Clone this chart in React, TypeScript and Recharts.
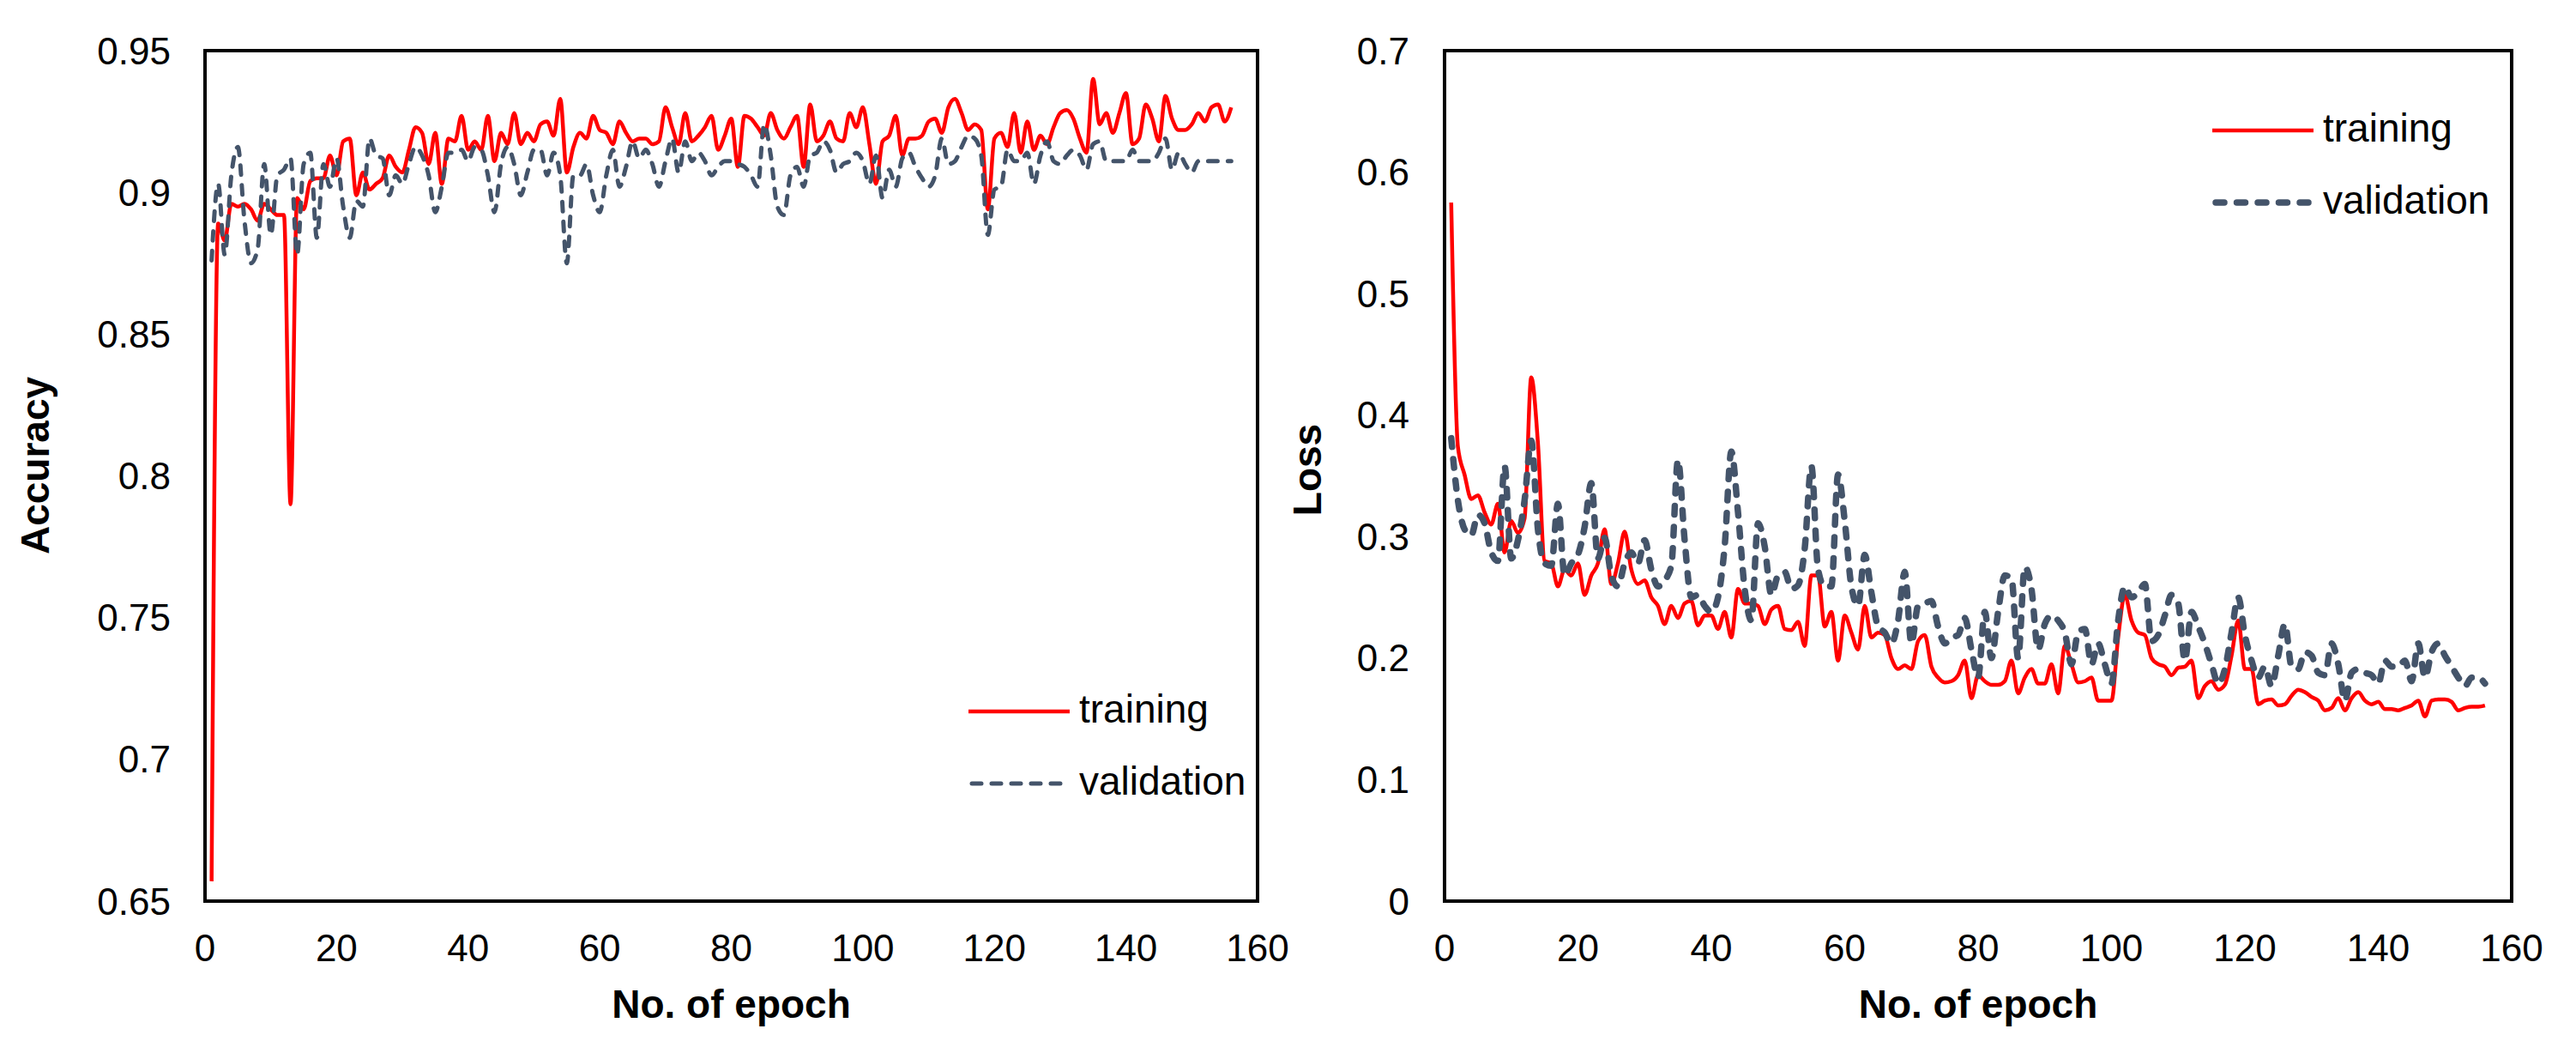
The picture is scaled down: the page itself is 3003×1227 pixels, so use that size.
import React from 'react';
import { LineChart, Line, XAxis, YAxis, ReferenceArea, Legend, Label } from 'recharts';

const FONT = '"Liberation Sans", Arial, Helvetica, sans-serif';

const epochTicks = [0, 20, 40, 60, 80, 100, 120, 140, 160];
const accTicks = [0.65, 0.7, 0.75, 0.8, 0.85, 0.9, 0.95];
const lossTicks = [0, 0.1, 0.2, 0.3, 0.4, 0.5, 0.6, 0.7];
const seriesNames = ['training', 'validation'];
const xTitle = 'No. of epoch';
const accTitle = 'Accuracy';
const lossTitle = 'Loss';

const trainAcc = [
  0.657, 0.889, 0.883, 0.896, 0.895, 0.896, 0.894, 0.890, 0.896, 0.894,
  0.892, 0.892, 0.790, 0.898, 0.894, 0.904, 0.905, 0.905, 0.913, 0.906,
  0.918, 0.919, 0.899, 0.907, 0.901, 0.903, 0.905, 0.913, 0.909, 0.907,
  0.915, 0.923, 0.921, 0.910, 0.921, 0.903, 0.919, 0.918, 0.927, 0.915,
  0.918, 0.915, 0.927, 0.911, 0.921, 0.917, 0.928, 0.917, 0.921, 0.918,
  0.924, 0.925, 0.920, 0.933, 0.907, 0.916, 0.921, 0.919, 0.927, 0.922,
  0.921, 0.917, 0.925, 0.921, 0.918, 0.919, 0.919, 0.917, 0.918, 0.930,
  0.923, 0.917, 0.928, 0.918, 0.920, 0.923, 0.927, 0.915, 0.920, 0.926,
  0.909, 0.927, 0.926, 0.923, 0.920, 0.928, 0.922, 0.919, 0.923, 0.927,
  0.909, 0.931, 0.918, 0.920, 0.925, 0.919, 0.918, 0.928, 0.923, 0.930,
  0.917, 0.903, 0.918, 0.920, 0.927, 0.913, 0.919, 0.919, 0.920, 0.925,
  0.926, 0.921, 0.930, 0.933, 0.928, 0.922, 0.924, 0.922, 0.894, 0.919,
  0.921, 0.916, 0.928, 0.914, 0.925, 0.915, 0.920, 0.917, 0.923, 0.928,
  0.929, 0.926, 0.919, 0.914, 0.940, 0.924, 0.928, 0.921, 0.928, 0.935,
  0.917, 0.919, 0.931, 0.926, 0.918, 0.934, 0.926, 0.922, 0.922, 0.924,
  0.928, 0.925, 0.930, 0.931, 0.925, 0.930,
];

const valAcc = [
  0.876, 0.903, 0.878, 0.906, 0.916, 0.890, 0.875, 0.880, 0.910, 0.885,
  0.906, 0.908, 0.912, 0.878, 0.910, 0.914, 0.884, 0.910, 0.902, 0.912,
  0.895, 0.884, 0.897, 0.895, 0.919, 0.913, 0.912, 0.899, 0.906, 0.903,
  0.910, 0.916, 0.913, 0.906, 0.893, 0.902, 0.914, 0.914, 0.915, 0.911,
  0.916, 0.915, 0.906, 0.893, 0.910, 0.916, 0.910, 0.899, 0.907, 0.915,
  0.915, 0.906, 0.914, 0.906, 0.875, 0.906, 0.906, 0.910, 0.899, 0.893,
  0.906, 0.915, 0.902, 0.909, 0.918, 0.912, 0.915, 0.910, 0.902, 0.911,
  0.919, 0.907, 0.918, 0.911, 0.914, 0.911, 0.906, 0.909, 0.911, 0.911,
  0.910, 0.909, 0.906, 0.902, 0.924, 0.913, 0.895, 0.892, 0.906, 0.909,
  0.902, 0.913, 0.914, 0.918, 0.915, 0.907, 0.910, 0.911, 0.914, 0.911,
  0.903, 0.913, 0.898, 0.908, 0.902, 0.912, 0.914, 0.909, 0.905, 0.902,
  0.906, 0.919, 0.910, 0.911, 0.916, 0.920, 0.919, 0.913, 0.885, 0.901,
  0.902, 0.915, 0.911, 0.911, 0.914, 0.903, 0.913, 0.918, 0.911, 0.910,
  0.913, 0.915, 0.913, 0.908, 0.917, 0.918, 0.911, 0.911, 0.911, 0.911,
  0.915, 0.911, 0.911, 0.911, 0.914, 0.919, 0.908, 0.914, 0.910, 0.907,
  0.911, 0.911, 0.911, 0.911, 0.911, 0.911,
];

const trainLoss = [
  0.575, 0.374, 0.351, 0.331, 0.334, 0.320, 0.310, 0.327, 0.287, 0.313,
  0.303, 0.315, 0.431, 0.377, 0.280, 0.278, 0.259, 0.273, 0.268, 0.278,
  0.252, 0.268, 0.278, 0.306, 0.261, 0.278, 0.304, 0.273, 0.261, 0.264,
  0.250, 0.243, 0.228, 0.243, 0.233, 0.245, 0.247, 0.227, 0.235, 0.235,
  0.224, 0.238, 0.217, 0.257, 0.245, 0.245, 0.243, 0.228, 0.240, 0.243,
  0.224, 0.223, 0.230, 0.210, 0.268, 0.268, 0.226, 0.238, 0.198, 0.235,
  0.221, 0.207, 0.243, 0.217, 0.221, 0.219, 0.200, 0.191, 0.194, 0.191,
  0.214, 0.219, 0.193, 0.184, 0.180, 0.181, 0.186, 0.198, 0.167, 0.186,
  0.181, 0.178, 0.178, 0.181, 0.198, 0.171, 0.184, 0.191, 0.179, 0.179,
  0.195, 0.171, 0.210, 0.195, 0.180, 0.181, 0.184, 0.165, 0.165, 0.165,
  0.217, 0.252, 0.231, 0.221, 0.219, 0.200, 0.195, 0.193, 0.186, 0.192,
  0.193, 0.198, 0.167, 0.177, 0.181, 0.174, 0.178, 0.202, 0.231, 0.191,
  0.191, 0.162, 0.165, 0.166, 0.161, 0.162, 0.169, 0.174, 0.172, 0.168,
  0.165, 0.157, 0.159, 0.167, 0.157, 0.167, 0.172, 0.165, 0.162, 0.164,
  0.158, 0.158, 0.157, 0.159, 0.161, 0.165, 0.152, 0.165, 0.166, 0.166,
  0.164, 0.157, 0.159, 0.160, 0.160, 0.161,
];

const valLoss = [
  0.381, 0.330, 0.306, 0.301, 0.318, 0.311, 0.287, 0.280, 0.358, 0.282,
  0.297, 0.330, 0.379, 0.306, 0.278, 0.276, 0.327, 0.268, 0.278, 0.285,
  0.308, 0.344, 0.282, 0.299, 0.268, 0.259, 0.278, 0.287, 0.278, 0.297,
  0.273, 0.259, 0.264, 0.276, 0.363, 0.297, 0.250, 0.252, 0.243, 0.238,
  0.250, 0.292, 0.370, 0.320, 0.257, 0.231, 0.311, 0.292, 0.252, 0.268,
  0.271, 0.257, 0.260, 0.290, 0.358, 0.273, 0.259, 0.259, 0.351, 0.313,
  0.259, 0.243, 0.285, 0.254, 0.226, 0.221, 0.212, 0.231, 0.271, 0.212,
  0.243, 0.245, 0.247, 0.226, 0.212, 0.217, 0.219, 0.233, 0.207, 0.184,
  0.238, 0.200, 0.238, 0.268, 0.266, 0.200, 0.275, 0.257, 0.207, 0.228,
  0.235, 0.231, 0.221, 0.195, 0.221, 0.224, 0.195, 0.212, 0.195, 0.179,
  0.231, 0.259, 0.250, 0.254, 0.261, 0.214, 0.219, 0.235, 0.252, 0.245,
  0.198, 0.238, 0.226, 0.212, 0.195, 0.179, 0.191, 0.221, 0.250, 0.219,
  0.198, 0.184, 0.193, 0.177, 0.202, 0.228, 0.193, 0.191, 0.205, 0.202,
  0.188, 0.186, 0.212, 0.195, 0.165, 0.188, 0.191, 0.188, 0.186, 0.179,
  0.198, 0.193, 0.193, 0.198, 0.181, 0.212, 0.184, 0.205, 0.212, 0.202,
  0.193, 0.184, 0.177, 0.184, 0.184, 0.179,
];

const accData = trainAcc.map((v, i) => ({ epoch: i + 1, training: v, validation: valAcc[i] }));
const lossData = trainLoss.map((v, i) => ({ epoch: i + 1, training: v, validation: valLoss[i] }));

const RED = '#FF0000';
const SLATE = '#44546A';

const renderLegend = (props: any) => {
  const { payload } = props;
  return (
    <div>
      {(payload || []).map((entry: any, idx: number) => {
        const p = entry.payload || {};
        return (
          <div key={idx} style={{ display: 'flex', alignItems: 'flex-start', height: 84 }}>
            <svg width={118} height={84} style={{ display: 'block', overflow: 'visible' }}>
              <line
                x1={p.strokeLinecap === 'round' ? 4 : 0}
                x2={p.strokeLinecap === 'round' ? 114 : 118}
                y1={45}
                y2={45}
                stroke={entry.color}
                strokeWidth={p.strokeWidth}
                strokeDasharray={p.strokeDasharray}
                strokeLinecap={p.strokeLinecap}
              />
            </svg>
            <span
              style={{
                marginLeft: 11,
                fontSize: 46,
                lineHeight: '84px',
                fontFamily: FONT,
                color: '#000',
                whiteSpace: 'nowrap',
              }}
            >
              {entry.value}
            </span>
          </div>
        );
      })}
    </div>
  );
};

const yTitle = (text: string, dx: number, dy: number) => (props: any) => {
  const vb = props.viewBox;
  const x = vb.x + dx;
  const y = vb.y + vb.height / 2 + dy;
  return (
    <text
      x={x}
      y={y}
      transform={`rotate(-90 ${x} ${y})`}
      textAnchor="middle"
      fontFamily={FONT}
      fontWeight="bold"
      fontSize={46}
      fill="#000"
    >
      {text}
    </text>
  );
};

const xTitleContent = (props: any) => {
  const vb = props.viewBox;
  return (
    <text
      x={vb.x + vb.width / 2}
      y={vb.y + 136}
      textAnchor="middle"
      fontFamily={FONT}
      fontWeight="bold"
      fontSize={46}
      fill="#000"
    >
      {xTitle}
    </text>
  );
};

const tickStyle = { fontFamily: FONT, fontSize: 44, fill: '#000' };

export default function App() {
  return (
    <div style={{ position: 'absolute', left: 0, top: 0, width: 3003, height: 1227, background: '#fff', overflow: 'hidden' }}>
      <div style={{ position: 'absolute', left: 0, top: 0 }}>
        <LineChart width={1540} height={1227} data={accData} margin={{ top: 59, right: 74, bottom: 57, left: 0 }}>
          <XAxis
            dataKey="epoch"
            type="number"
            domain={[0, 160]}
            ticks={epochTicks}
            height={120}
            axisLine={false}
            tickLine={false}
            tickSize={0}
            tickMargin={39}
            tick={tickStyle}
            interval={0}
          >
            <Label content={xTitleContent} />
          </XAxis>
          <YAxis
            type="number"
            domain={[0.65, 0.95]}
            ticks={accTicks}
            width={239}
            axisLine={false}
            tickLine={false}
            tickSize={0}
            tickMargin={40}
            tick={tickStyle}
            interval={0}
          >
            <Label content={yTitle(accTitle, 57, -12)} />
          </YAxis>
          <ReferenceArea x1={0} x2={160} y1={0.65} y2={0.95} fill="none" stroke="#000" strokeWidth={4} />
          <Line
            name={seriesNames[0]}
            dataKey="training"
            type="monotone"
            stroke={RED}
            strokeWidth={4.5}
            dot={false}
            activeDot={false}
            isAnimationActive={false}
          />
          <Line
            name={seriesNames[1]}
            dataKey="validation"
            type="monotone"
            stroke={SLATE}
            strokeWidth={5}
            strokeDasharray="11 12"
            strokeLinecap="round"
            dot={false}
            activeDot={false}
            isAnimationActive={false}
          />
          <Legend
            layout="vertical"
            align="center"
            verticalAlign="middle"
            content={renderLegend}
            wrapperStyle={{ position: 'absolute', left: 1129, top: 784, width: 360 }}
          />
        </LineChart>
      </div>
      <div style={{ position: 'absolute', left: 1460, top: 0 }}>
        <LineChart width={1543} height={1227} data={lossData} margin={{ top: 59, right: 75, bottom: 57, left: 0 }}>
          <XAxis
            dataKey="epoch"
            type="number"
            domain={[0, 160]}
            ticks={epochTicks}
            height={120}
            axisLine={false}
            tickLine={false}
            tickSize={0}
            tickMargin={39}
            tick={tickStyle}
            interval={0}
          >
            <Label content={xTitleContent} />
          </XAxis>
          <YAxis
            type="number"
            domain={[0, 0.7]}
            ticks={lossTicks}
            width={224}
            axisLine={false}
            tickLine={false}
            tickSize={0}
            tickMargin={41}
            tick={tickStyle}
            interval={0}
          >
            <Label content={yTitle(lossTitle, 80, -7)} />
          </YAxis>
          <ReferenceArea x1={0} x2={160} y1={0} y2={0.7} fill="none" stroke="#000" strokeWidth={4} />
          <Line
            name={seriesNames[0]}
            dataKey="training"
            type="monotone"
            stroke={RED}
            strokeWidth={4.5}
            dot={false}
            activeDot={false}
            isAnimationActive={false}
          />
          <Line
            name={seriesNames[1]}
            dataKey="validation"
            type="monotone"
            stroke={SLATE}
            strokeWidth={7.5}
            strokeDasharray="10 14.5"
            strokeLinecap="round"
            dot={false}
            activeDot={false}
            isAnimationActive={false}
          />
          <Legend
            layout="vertical"
            align="center"
            verticalAlign="middle"
            content={renderLegend}
            wrapperStyle={{ position: 'absolute', left: 1119, top: 107, width: 380 }}
          />
        </LineChart>
      </div>
    </div>
  );
}
